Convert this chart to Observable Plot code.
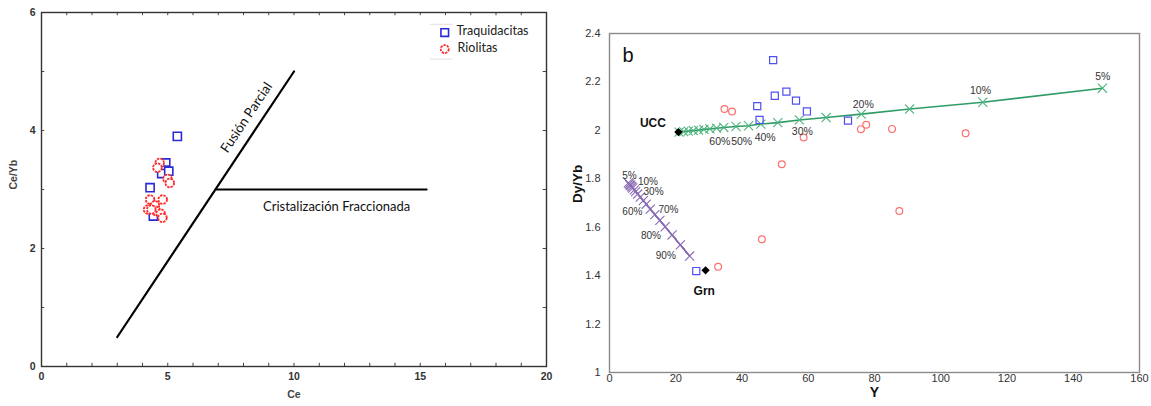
<!DOCTYPE html>
<html><head><meta charset="utf-8">
<script src="https://cdn.jsdelivr.net/npm/d3@7"></script>
<script src="https://cdn.jsdelivr.net/npm/@observablehq/plot@0.6"></script>
<style>
body{margin:0;background:#fff;}
#wrap{position:relative;width:1151px;height:406px;overflow:hidden;background:#fff;}
#a{position:absolute;left:0;top:0;}
#b{position:absolute;left:570px;top:0;}
</style></head><body><div id="wrap"><div id="a"></div><div id="b"></div></div>
<script>
// ---------- Panel a: Ce vs Ce/Yb ----------
const ceTickLabels = [0, 5, 10, 15, 20];
const ceMinorTicks = [1,2,3,4,5,6,7,8,9,10,11,12,13,14,15,16,17,18,19];
const ceYbTickLabels = [0, 2, 4, 6];
const ceYbMinorTicks = [1,2,3,4,5];

const traqCe   = [5.38, 4.92, 4.88, 4.76, 5.04, 4.30, 4.43];
const traqCeYb = [3.90, 3.45, 3.33, 3.27, 3.31, 3.03, 2.55];
const rioCe    = [4.68, 4.59, 4.99, 5.08, 4.30, 4.80, 4.49, 4.22, 4.52, 4.72, 4.79, 4.35];
const rioCeYb  = [3.45, 3.37, 3.18, 3.11, 2.83, 2.83, 2.73, 2.66, 2.64, 2.59, 2.52, 2.66];

const fusionCe = [3, 10];
const fusionCeYb = [0.5, 5];
const cristCe = [6.89, 15.25];
const cristCeYb = [3, 3];

// ---------- Panel b: Y vs Dy/Yb ----------
const yTickLabels = [0, 20, 40, 60, 80, 100, 120, 140, 160];
const dyTickLabels = [1, 1.2, 1.4, 1.6, 1.8, 2, 2.2, 2.4];
const dyTickText = ["1", "1.2", "1.4", "1.6", "1.8", "2", "2.2", "2.4"];

const traqY  = [49.4, 49.9, 53.4, 56.3, 44.6, 59.6, 45.3, 72.0, 26.2];
const traqDy = [2.290, 2.143, 2.160, 2.123, 2.100, 2.078, 2.043, 2.040, 1.419];
const rioY   = [34.7, 37.0, 58.6, 52.0, 75.9, 77.5, 85.3, 107.5, 87.5, 46.0, 32.8];
const rioDy  = [2.088, 2.078, 1.970, 1.860, 2.005, 2.023, 2.006, 1.988, 1.667, 1.550, 1.437];

const uccModelY  = [21.0, 22.4, 23.8, 25.3, 26.9, 28.5, 30.3, 32.3, 34.5, 38.2, 42.0, 45.7, 50.8, 57.3, 65.4, 76.0, 90.6, 112.7, 148.8];
const uccModelDy = [1.993, 1.995, 1.997, 1.999, 2.001, 2.004, 2.006, 2.009, 2.012, 2.016, 2.019, 2.026, 2.032, 2.043, 2.053, 2.067, 2.088, 2.116, 2.174];
const grnModelY  = [5.7, 5.95, 6.2, 6.4, 6.7, 7.0, 7.5, 7.9, 8.5, 9.3, 10.2, 11.1, 12.3, 13.7, 15.2, 16.8, 18.9, 21.4, 24.2];
const grnModelDy = [1.783, 1.779, 1.775, 1.772, 1.767, 1.762, 1.754, 1.747, 1.737, 1.724, 1.710, 1.695, 1.675, 1.652, 1.628, 1.602, 1.568, 1.527, 1.481];

const sourceNames = ["UCC", "Grn"];
const sourceY  = [20.8, 29.0];
const sourceDy = [1.993, 1.422];

const uccPctText = ["60%", "50%", "40%", "30%", "20%", "10%", "5%"];
const uccPctY    = [33.3, 39.9, 47.0, 58.2, 76.6, 112.0, 148.9];
const uccPctDy   = [1.954, 1.954, 1.972, 1.995, 2.105, 2.163, 2.222];
const grnPctText = ["5%", "10%", "30%", "60%", "70%", "80%", "90%"];
const grnPctY    = [6.0, 11.6, 13.3, 6.9, 17.8, 12.5, 17.0];
const grnPctDy   = [1.812, 1.788, 1.748, 1.662, 1.671, 1.565, 1.484];

const zip = (xs, ys) => xs.map((x, i) => ({x, y: ys[i]}));
const SANS = "'Liberation Sans', Arial, sans-serif";
const CAL = "Lato, 'Open Sans', sans-serif";

// Panel a
const plotA = Plot.plot({
  width: 570, height: 406,
  marginLeft: 41, marginRight: 24, marginTop: 12, marginBottom: 40,
  x: {domain: [0, 20], axis: null},
  y: {domain: [0, 6], axis: null},
  style: {fontFamily: SANS, background: "#fff", overflow: "visible"},
  marks: [
    Plot.ruleX(ceMinorTicks, {x: d => d, y1: 0, y2: 0.055, stroke: "#444", strokeWidth: 1}),
    Plot.ruleX(ceMinorTicks, {x: d => d, y1: 6, y2: 5.945, stroke: "#444", strokeWidth: 1}),
    Plot.ruleY(ceYbMinorTicks, {y: d => d, x1: 0, x2: 0.13, stroke: "#444", strokeWidth: 1}),
    Plot.ruleY(ceYbMinorTicks, {y: d => d, x1: 20, x2: 19.87, stroke: "#444", strokeWidth: 1}),
    Plot.frame({stroke: "#333", strokeWidth: 1.4}),
    Plot.text(ceTickLabels, {x: d => d, frameAnchor: "bottom", dy: 13, text: d => String(d), fontSize: 10.5, fontWeight: "bold", fill: "#333"}),
    Plot.text(ceYbTickLabels, {y: d => d, frameAnchor: "left", dx: -6, textAnchor: "end", text: d => String(d), fontSize: 10.5, fontWeight: "bold", fill: "#333"}),
    Plot.text(["Ce"], {frameAnchor: "bottom", dy: 31, fontSize: 10.5, fontWeight: "bold", fill: "#444"}),
    Plot.text(["Ce/Yb"], {frameAnchor: "left", dx: -28, rotate: -90, fontSize: 10.5, fontWeight: "bold", fill: "#444"}),
    Plot.line(zip(fusionCe, fusionCeYb), {x: "x", y: "y", stroke: "#000", strokeWidth: 2.2}),
    Plot.line(zip(cristCe, cristCeYb), {x: "x", y: "y", stroke: "#000", strokeWidth: 2.2}),
    Plot.text([{x: 8.12, y: 4.22, t: "Fusión Parcial"}], {x: "x", y: "y", text: "t", rotate: -56.3, fontSize: 13.5, fontFamily: CAL, fill: "#111"}),
    Plot.text([{x: 11.69, y: 2.71, t: "Cristalización Fraccionada"}], {x: "x", y: "y", text: "t", fontSize: 13, fontFamily: CAL, fill: "#111"}),
    Plot.dot(zip(traqCe, traqCeYb), {x: "x", y: "y", symbol: "square", r: 4.6, stroke: "#2b2bd6", strokeWidth: 1.6, fill: "#fff"}),
    Plot.dot(zip(rioCe, rioCeYb), {x: "x", y: "y", symbol: "circle", r: 4.3, stroke: "#ff2a2a", strokeWidth: 1.8, strokeDasharray: "2.4,1", fill: "#fff"}),
    // legend
    Plot.ruleY([5.80, 5.21], {y: d => d, x1: 15.4, x2: 16.3, stroke: "#e2e2e2", strokeWidth: 1}),
    Plot.dot([{x: 15.97, y: 5.66}], {x: "x", y: "y", symbol: "square", r: 4.3, stroke: "#2b2bd6", strokeWidth: 1.6, fill: "#fff"}),
    Plot.dot([{x: 15.97, y: 5.38}], {x: "x", y: "y", symbol: "circle", r: 4, stroke: "#ff2a2a", strokeWidth: 1.8, strokeDasharray: "2.4,1", fill: "#fff"}),
    Plot.text([{x: 16.44, y: 5.69, t: "Traquidacitas"}, {x: 16.48, y: 5.40, t: "Riolitas"}], {x: "x", y: "y", text: "t", textAnchor: "start", fontSize: 12.5, fontFamily: CAL, fill: "#222"})
  ]
});
document.getElementById("a").appendChild(plotA);

// Panel b
const plotB = Plot.plot({
  width: 581, height: 406,
  marginLeft: 39, marginRight: 12, marginTop: 33, marginBottom: 34,
  x: {domain: [0, 160], axis: null},
  y: {domain: [1, 2.4], axis: null},
  style: {fontFamily: SANS, background: "#fff", overflow: "visible"},
  marks: [
    Plot.frame({stroke: "#8a8a8a", strokeWidth: 1.4}),
    Plot.text(yTickLabels, {x: d => d, frameAnchor: "bottom", dy: 9, text: d => String(d), fontSize: 11, fill: "#333"}),
    Plot.text(dyTickLabels, {y: d => d, frameAnchor: "left", dx: -9, textAnchor: "end", text: (d, i) => dyTickText[i], fontSize: 11, fill: "#333"}),
    Plot.text(["Y"], {frameAnchor: "bottom", dy: 24, fontSize: 14, fontWeight: "bold", fill: "#111"}),
    Plot.text(["Dy/Yb"], {frameAnchor: "left", dx: -32, rotate: -90, fontSize: 13.5, fontWeight: "bold", fill: "#111"}),
    Plot.text(["b"], {frameAnchor: "top-left", dx: 13, dy: 14, fontSize: 20, fill: "#111"}),
    Plot.line(zip(uccModelY, uccModelDy), {x: "x", y: "y", stroke: "#2f9c66", strokeWidth: 1.6}),
    Plot.dot(zip(uccModelY, uccModelDy), {x: "x", y: "y", symbol: "times", r: 4.2, stroke: "#4fb47f", strokeWidth: 1.1}),
    Plot.line(zip(grnModelY, grnModelDy), {x: "x", y: "y", stroke: "#7452a0", strokeWidth: 1.6}),
    Plot.dot(zip(grnModelY, grnModelDy), {x: "x", y: "y", symbol: "times", r: 4.2, stroke: "#8a6cb5", strokeWidth: 1.1}),
    Plot.dot(zip(traqY, traqDy), {x: "x", y: "y", symbol: "square", r: 4, stroke: "#5050f0", strokeWidth: 1.2, fill: "none"}),
    Plot.dot(zip(rioY, rioDy), {x: "x", y: "y", symbol: "circle", r: 3.4, stroke: "#ff6f6f", strokeWidth: 1.2, fill: "none"}),
    Plot.dot(zip(sourceY, sourceDy), {x: "x", y: "y", symbol: "diamond2", r: 2.8, fill: "#000", stroke: "#000"}),
    Plot.text([{x: 13.1, y: 2.030, t: sourceNames[0]}, {x: 28.6, y: 1.337, t: sourceNames[1]}], {x: "x", y: "y", text: "t", fontSize: 12, fontWeight: "bold", fill: "#111"}),
    Plot.text(uccPctText.map((t, i) => ({t, x: uccPctY[i], y: uccPctDy[i]})), {x: "x", y: "y", text: "t", fontSize: 10.5, fill: "#333"}),
    Plot.text(grnPctText.map((t, i) => ({t, x: grnPctY[i], y: grnPctDy[i]})), {x: "x", y: "y", text: "t", fontSize: 10, fill: "#333"})
  ]
});
document.getElementById("b").appendChild(plotB);
</script>
</body></html>
